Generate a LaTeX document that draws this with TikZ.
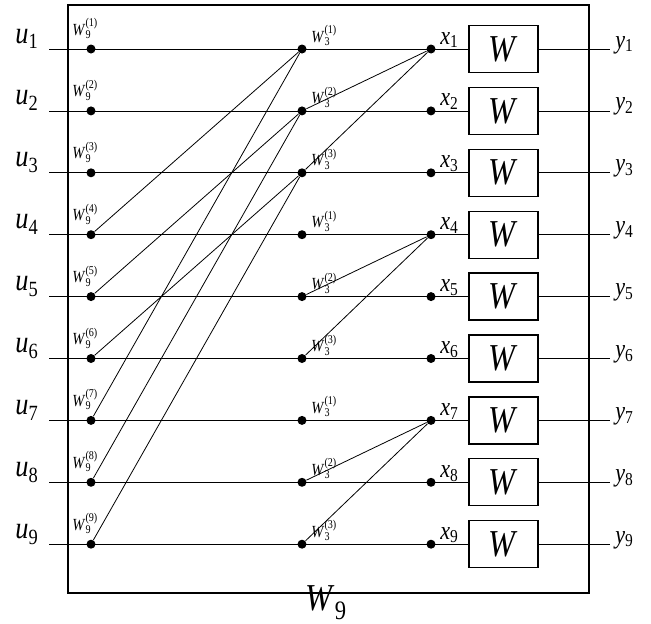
\documentclass[tikz,border=0pt]{standalone}
\usepackage{fontspec}
\setmainfont{Liberation Serif}[FakeStretch=0.85]
\usetikzlibrary{math}

\makeatletter
\newcommand{\lbl}[2]{\textit{#1}\textsubscript{#2}}
\newcommand{\smallsz}{\fontsize\sf@size\z@\selectfont}
\makeatother
\newcommand{\wlbl}[2]{$\mbox{\textit{W}}^{\mbox{\smallsz(#2)}}_{\mbox{\smallsz#1}}$}

\tikzset{
 dot/.style={circle, fill=black, inner sep=0pt, minimum size=9pt},
 wbox/.style={draw, fill=white, line width=1.3pt, minimum width=69pt, minimum height=47pt, inner sep=0pt, font=\fontsize{38}{42}\selectfont},
 biglab/.style={inner sep=0pt, anchor=base west, font=\fontsize{31}{34}\selectfont},
 midlab/.style={inner sep=0pt, anchor=base west, font=\fontsize{26}{30}\selectfont},
 smalllab/.style={inner sep=0pt, anchor=base west, font=\fontsize{17}{20}\selectfont},
}

\begin{document}
\begin{tikzpicture}[x=1pt, y=-1pt, line width=0.8pt]
\tikzmath{
\xa=91;
\xb=302;
\xc=431;
\dy=61.9;
\yo=49;
}
\useasboundingbox (0,0) rectangle (651,624);

 %frame:
 \draw[line width=2pt] (68,5) rectangle (589,593);
 \node[inner sep=0pt, anchor=base west, font=\fontsize{38}{42}\selectfont] (W9) at (305,610) {\lbl{W}{9}};

 %rows:
 \foreach \i in {1,...,9}{
  \pgfmathsetmacro{\yy}{\yo+(\i-1)*\dy}
  \coordinate (L\i) at (49,\yy);
  \coordinate (R\i) at (610,\yy);
  \draw (L\i) -- (R\i);
  \node[wbox] (W\i) at (503.5,\yy) {\textit{W}};
  \node[dot] (A\i) at (\xa,\yy) {};
  \node[dot] (B\i) at (\xb,\yy) {};
  \node[dot] (C\i) at (\xc,\yy) {};
  \node[biglab] (U\i) at (15,\yy-6) {\lbl{u}{\i}};
  \node[midlab] (Y\i) at (615,\yy-1) {\lbl{y}{\i}};
  \node[midlab] (X\i) at (440,\yy-5) {\lbl{x}{\i}};
  \node[smalllab] (P\i) at (72,\yy-14) {\wlbl{9}{\i}};
 }

 %stage labels:
 \foreach \i/\k in {1/1,2/2,3/3,4/1,5/2,6/3,7/1,8/2,9/3}{
  \pgfmathsetmacro{\yy}{\yo+(\i-1)*\dy}
  \node[smalllab] (Q\i) at (311,\yy-7) {\wlbl{3}{\k}};
 }

 %permutation:
 \draw (A4) -- (B1) (A7) -- (B1);
 \draw (A5) -- (B2) (A8) -- (B2);
 \draw (A6) -- (B3) (A9) -- (B3);

 %butterflies:
 \draw (B2) -- (C1) (B3) -- (C1);
 \draw (B5) -- (C4) (B6) -- (C4);
 \draw (B8) -- (C7) (B9) -- (C7);
\end{tikzpicture}
\end{document}
